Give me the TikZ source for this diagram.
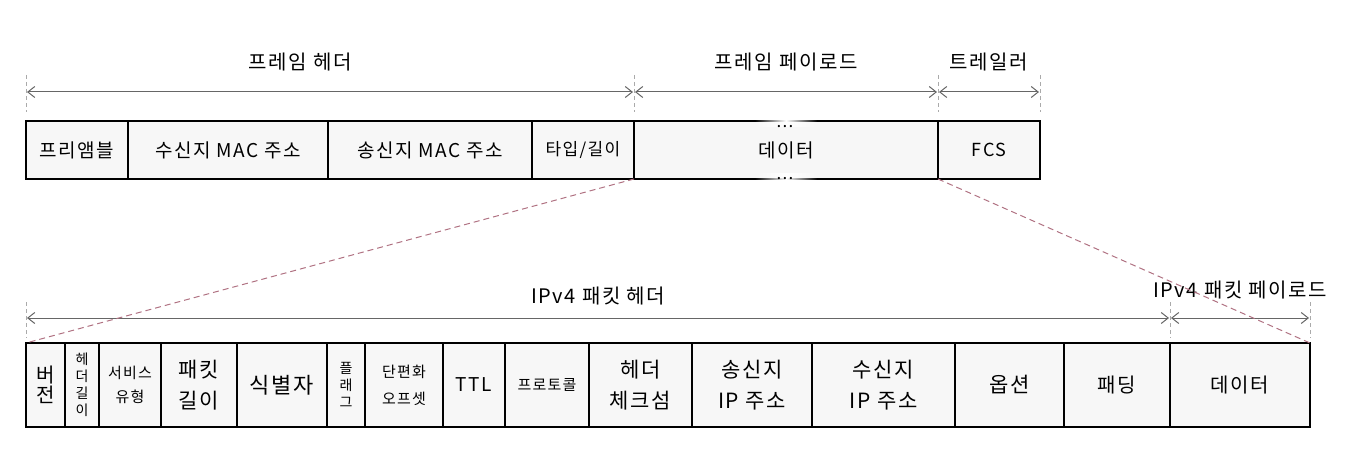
\documentclass[tikz,border=0pt]{standalone}
\usepackage{fontspec}
\setmainfont{Noto Sans CJK KR}[LetterSpace=8]
\usetikzlibrary{arrows.meta,fadings}
\tikzfading[name=midfade, left color=transparent!100, right color=transparent!100, middle color=transparent!0]
\definecolor{cellgray}{HTML}{F7F7F7}
\definecolor{arrowgray}{HTML}{666666}
\definecolor{tickgray}{HTML}{AAAAAA}
\definecolor{rosedash}{HTML}{B07282}
\newcommand{\fz}[2]{\fontsize{#1}{#2}\selectfont}
\tikzset{
  cell/.style={draw=black, line width=1.2pt, fill=cellgray, inner sep=0pt, outer sep=0pt, align=center, anchor=center},
  topcell/.style={cell, minimum height=58pt, font=\fz{19}{24}},
  botcell/.style={cell, minimum height=84pt, font=\fz{21}{31}},
  smalltxt/.style={font=\fz{15}{24}},
  vtxt/.style={font=\fz{14}{17}},
  lbl/.style={inner sep=0pt, font=\fz{20}{24}},
  dimarrow/.style={draw=arrowgray, line width=1pt, {Straight Barb[length=7pt,width=11pt]}-{Straight Barb[length=7pt,width=11pt]}, shorten <=1pt, shorten >=1pt},
  tickline/.style={draw=tickgray, line width=1pt, dashed, dash pattern=on 4pt off 3pt},
  zoomline/.style={draw=rosedash, line width=1pt, dash pattern=on 6pt off 4pt},
  dots/.style={inner sep=0pt, anchor=base, font=\fz{17}{17}},
}
\begin{document}
\begin{tikzpicture}[x=1pt,y=-1pt]
\useasboundingbox (0,0) rectangle (1358,452);

% ---------- top row ----------
\node[topcell, minimum width=102pt] (pre) at (77,150) {프리앰블};
\node[topcell, minimum width=200pt] (dst) at (228,150) {수신지 MAC 주소};
\node[topcell, minimum width=204pt] (src) at (430,150) {송신지 MAC 주소};
\node[topcell, minimum width=102pt, font=\fz{17}{22}] (typ) at (583,150) {타입/길이};
\node[topcell, minimum width=304pt] (data) at (786,150) {데이터};
\node[topcell, minimum width=102pt, font=\fz{18}{22}] (fcs) at (989,150) {FCS};

% fading gap in the data box border
\fill[white, path fading=midfade] (755,114) rectangle (817,127);
\fill[white, path fading=midfade] (755,173) rectangle (817,186);
\node[dots] (dtop) at (785,127) {...};
\node[dots] (dbot) at (785,179) {...};

% top dimension lines
\coordinate (ta) at (pre.north west |- 0,92);
\coordinate (tb) at (data.north west |- 0,92);
\coordinate (tc) at (data.north east |- 0,92);
\coordinate (td) at (fcs.north east |- 0,92);
\foreach \c in {ta,tb,tc,td}{\draw[tickline] (\c |- 0,75) -- (\c |- 0,112);}
\draw[dimarrow] (ta) -- (tb);
\draw[dimarrow] (tb) -- (tc);
\draw[dimarrow] (tc) -- (td);
\node[lbl] (l1) at (300,62) {프레임 헤더};
\node[lbl] (l2) at (786,62) {프레임 페이로드};
\node[lbl] (l3) at (989,62) {트레일러};

% ---------- bottom row ----------
\node[botcell, minimum width=39pt, font=\fz{20}{20}] (b1) at (45.5,385) {버\\전};
\node[botcell, minimum width=34pt, vtxt] (b2) at (82,385) {헤\\더\\길\\이};
\node[botcell, minimum width=62pt, smalltxt] (b3) at (130,385) {서비스\\유형};
\node[botcell, minimum width=76pt] (b4) at (199,385) {패킷\\길이};
\node[botcell, minimum width=90pt, font=\fz{22}{26}] (b5) at (282,385) {식별자};
\node[botcell, minimum width=38pt, vtxt] (b6) at (346,385) {플\\래\\그};
\node[botcell, minimum width=78pt, font=\fz{15}{27}] (b7) at (404,385) {단편화\\오프셋};
\node[botcell, minimum width=62pt, font=\fz{19}{22}] (b8) at (474,385) {TTL};
\node[botcell, minimum width=84pt, smalltxt] (b9) at (547,385) {프로토콜};
\node[botcell, minimum width=103pt] (b10) at (640.5,385) {헤더\\체크섬};
\node[botcell, minimum width=120pt] (b11) at (752,385) {송신지\\IP 주소};
\node[botcell, minimum width=143pt] (b12) at (883.5,385) {수신지\\IP 주소};
\node[botcell, minimum width=109pt] (b13) at (1009.5,385) {옵션};
\node[botcell, minimum width=106pt, font=\fz{20}{24}] (b14) at (1117,385) {패딩};
\node[botcell, minimum width=140pt, font=\fz{20}{24}] (b15) at (1240,385) {데이터};

% bottom dimension lines
\coordinate (ba) at (b1.north west |- 0,318);
\coordinate (bb) at (b15.north west |- 0,318);
\coordinate (bc) at (b15.north east |- 0,318);
\foreach \c in {ba,bb,bc}{\draw[tickline] (\c |- 0,302) -- (\c |- 0,338);}
\draw[dimarrow] (ba) -- (bb);
\draw[dimarrow] (bb) -- (bc);
\node[lbl] (l4) at (598,296) {IPv4 패킷 헤더};
\node[lbl] (l5) at (1240,290) {IPv4 패킷 페이로드};

% zoom connectors
\draw[zoomline] (data.south west) -- (b1.north west);
\draw[zoomline] (data.south east) -- (b15.north east);
\end{tikzpicture}
\end{document}
